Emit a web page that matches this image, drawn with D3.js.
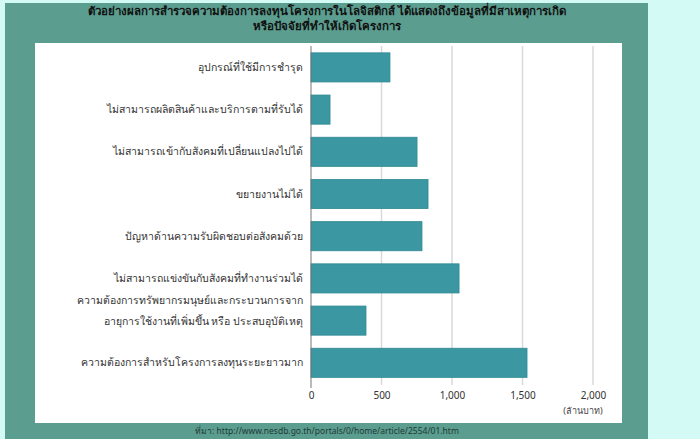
<!DOCTYPE html>
<html>
<head>
<meta charset="utf-8">
<script src="https://cdn.jsdelivr.net/npm/d3@7"></script>
<style>
  html, body { margin:0; padding:0; background:#d4faf6; }
  svg { display:block; font-family: "Noto Sans", "DejaVu Sans", sans-serif; }
</style>
</head>
<body>
<svg id="chart" width="700" height="439"></svg>
<script>
// chart data
var titleLines = [
    'ตัวอย่างผลการสำรวจความต้องการลงทุนโครงการในโลจิสติกส์ ได้แสดงถึงข้อมูลที่มีสาเหตุการเกิด',
    'หรือปัจจัยที่ทำให้เกิดโครงการ'
];
var categories = [
    ['อุปกรณ์ที่ใช้มีการชำรุด'],
    ['ไม่สามารถผลิตสินค้าและบริการตามที่รับได้'],
    ['ไม่สามารถเข้ากับสังคมที่เปลี่ยนแปลงไปได้'],
    ['ขยายงานไม่ได้'],
    ['ปัญหาด้านความรับผิดชอบต่อสังคมด้วย'],
    ['ไม่สามารถแข่งขันกับสังคมที่ทำงานร่วมได้'],
    ['ความต้องการทรัพยากรมนุษย์และกระบวนการจาก', 'อายุการใช้งานที่เพิ่มขึ้น หรือ ประสบอุบัติเหตุ'],
    ['ความต้องการสำหรับโครงการลงทุนระยะยาวมาก']
];
var values = [560, 135, 752, 830, 787, 1050, 390, 1532];
var xTicks = [0, 500, 1000, 1500, 2000];
var unitLabel = '(ล้านบาท)';
var sourceText = 'ที่มา: http://www.nesdb.go.th/portals/0/home/article/2554/01.htm';

var svg = d3.select('#chart');

//teal panel and white plot area
svg.append('rect')
    .attr('x', 5).attr('y', 3)
    .attr('width', 643).attr('height', 436)
    .attr('fill', '#5b9d8f');
svg.append('rect')
    .attr('x', 35).attr('y', 43)
    .attr('width', 587).attr('height', 380)
    .attr('fill', '#ffffff');

//title
svg.append('g')
    .selectAll('text')
    .data(titleLines)
    .enter().append('text')
    .attr('x', 327)
    .attr('y', function (d, i) { return 15 + i * 15; })
    .attr('text-anchor', 'middle')
    .attr('font-size', 11.5)
    .attr('font-weight', 'bold')
    .attr('fill', '#111')
    .text(function (d) { return d; });

var x = d3.scaleLinear()
    .domain([0, 2000])
    .range([311, 593]);

var y = d3.scaleBand()
    .domain(d3.range(categories.length))
    .range([46.3, 383.9])
    .paddingInner(0.31)
    .paddingOuter(0.155);

//gridlines
svg.append('g')
    .selectAll('line')
    .data(xTicks.slice(1))
    .enter().append('line')
    .attr('x1', function (d) { return x(d); })
    .attr('x2', function (d) { return x(d); })
    .attr('y1', 46)
    .attr('y2', 385)
    .attr('stroke', '#d9d9d9')
    .attr('stroke-width', 1.5);

//bars
svg.append('g')
    .selectAll('rect')
    .data(values)
    .enter().append('rect')
    .attr('x', x(0))
    .attr('y', function (d, i) { return y(i); })
    .attr('width', function (d) { return x(d) - x(0); })
    .attr('height', y.bandwidth())
    .attr('fill', '#3b98a3')
    .attr('stroke', '#2f8893')
    .attr('stroke-width', 0.8);

//vertical axis line
svg.append('line')
    .attr('x1', x(0)).attr('x2', x(0))
    .attr('y1', 46).attr('y2', 388)
    .attr('stroke', '#777')
    .attr('stroke-width', 1);

//x axis labels
var xAxis = d3.axisBottom(x)
    .tickValues(xTicks)
    .tickFormat(d3.format(','))
    .tickSize(0)
    .tickPadding(6);
var gx = svg.append('g')
    .attr('transform', 'translate(0,386)')
    .call(xAxis);
gx.select('.domain').remove();
gx.selectAll('text')
    .attr('font-size', 10)
    .attr('fill', '#333')
    .attr('font-family', '"Noto Sans", "DejaVu Sans", sans-serif');

svg.append('text')
    .attr('x', 583).attr('y', 414)
    .attr('text-anchor', 'middle')
    .attr('font-size', 9)
    .attr('fill', '#444')
    .text(unitLabel);

//category labels
var labels = svg.append('g')
    .selectAll('text')
    .data(categories)
    .enter().append('text')
    .attr('text-anchor', 'end')
    .attr('font-size', 10.5)
    .attr('fill', '#333')
    .attr('y', function (d, i) { return y(i) + y.bandwidth() / 2; });
labels.selectAll('tspan')
    .data(function (d) { return d; })
    .enter().append('tspan')
    .attr('x', 303)
    .attr('dy', function (d, j, nodes) {
        //two-line label sits a bit higher than its bar
        return nodes.length > 1 ? (j === 0 ? '-17px' : '21px') : '3.5px';
    })
    .text(function (d) { return d; });

//source line
svg.append('text')
    .attr('x', 327).attr('y', 434)
    .attr('text-anchor', 'middle')
    .attr('font-size', 8.5)
    .attr('fill', '#1d3b36')
    .text(sourceText);
</script>
</body>
</html>
